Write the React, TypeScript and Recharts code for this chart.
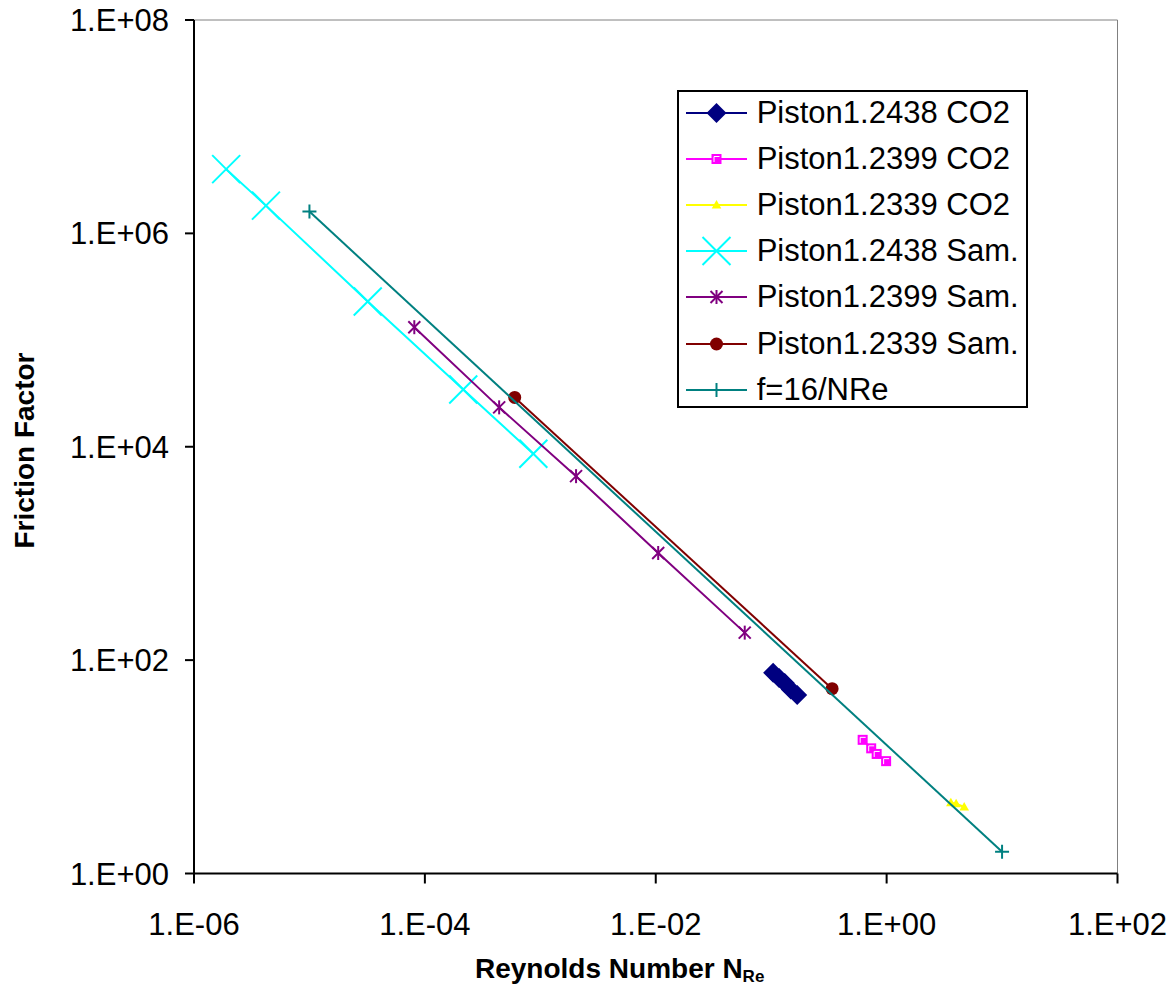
import React from 'react';
import { ScatterChart, Scatter, XAxis, YAxis, Legend, ReferenceLine } from 'recharts';

const FONT = '"Liberation Sans", Arial, Helvetica, sans-serif';

// Reynolds number (x) and friction factor (y)
const reCo2_2438 = [0.104, 0.117, 0.131, 0.148, 0.168];
const fCo2_2438 = [76, 68, 61, 53, 47];
const reCo2_2399 = [0.62, 0.735, 0.82, 0.99];
const fCo2_2399 = [17.9, 14.9, 13.2, 11.3];
const reCo2_2339 = [3.6, 4.0, 4.7];
const fCo2_2339 = [4.6, 4.5, 4.2];
const reSam_2438 = [1.9e-6, 4.2e-6, 3.2e-5, 2.15e-4, 8.7e-4];
const fSam_2438 = [4.0e6, 1.82e6, 2.3e5, 3.44e4, 8.6e3];
const reSam_2399 = [8.1e-5, 4.4e-4, 2.04e-3, 1.05e-2, 5.9e-2];
const fSam_2399 = [1.32e5, 2.34e4, 5.3e3, 1.01e3, 181];
const reSam_2339 = [6.0e-4, 0.337];
const fSam_2339 = [2.9e4, 54];
const reLaminar = [1e-5, 10];
const fLaminar = [1.6e6, 1.6];

const xTicks = [1e-6, 1e-4, 1e-2, 1, 100];
const yTicks = [1, 1e2, 1e4, 1e6, 1e8];

const toPoints = (xs: number[], ys: number[]) => xs.map((x, i) => ({ x, y: ys[i] }));

type Kind = 'diamond' | 'square' | 'triangle' | 'x' | 'star' | 'circle' | 'plus';

const series: { name: string; color: string; kind: Kind; data: { x: number; y: number }[] }[] = [
  { name: 'Piston1.2438 CO2', color: '#000080', kind: 'diamond', data: toPoints(reCo2_2438, fCo2_2438) },
  { name: 'Piston1.2399 CO2', color: '#FF00FF', kind: 'square', data: toPoints(reCo2_2399, fCo2_2399) },
  { name: 'Piston1.2339 CO2', color: '#FFFF00', kind: 'triangle', data: toPoints(reCo2_2339, fCo2_2339) },
  { name: 'Piston1.2438 Sam.', color: '#00FFFF', kind: 'x', data: toPoints(reSam_2438, fSam_2438) },
  { name: 'Piston1.2399 Sam.', color: '#800080', kind: 'star', data: toPoints(reSam_2399, fSam_2399) },
  { name: 'Piston1.2339 Sam.', color: '#800000', kind: 'circle', data: toPoints(reSam_2339, fSam_2339) },
  { name: 'f=16/NRe', color: '#008080', kind: 'plus', data: toPoints(reLaminar, fLaminar) },
];

const sciLabel = (v: number) => {
  const e = Math.round(Math.log10(v));
  return `1.E${e < 0 ? '-' : '+'}${String(Math.abs(e)).padStart(2, '0')}`;
};

const Marker = ({ kind, cx, cy, color }: { kind: Kind; cx: number; cy: number; color: string }) => {
  switch (kind) {
    case 'diamond': {
      const r = 10;
      return <path d={`M${cx},${cy - r}L${cx + r},${cy}L${cx},${cy + r}L${cx - r},${cy}Z`} fill={color} />;
    }
    case 'square':
      return (
        <g>
          <rect x={cx - 5} y={cy - 5} width={10} height={10} fill={color} />
          <path d={`M${cx - 2.5},${cy + 3}V${cy - 2.5}H${cx + 3}`} stroke="#fff" strokeWidth={1} fill="none" />
        </g>
      );
    case 'triangle':
      return <path d={`M${cx},${cy - 5}L${cx + 4.8},${cy + 3.5}L${cx - 4.8},${cy + 3.5}Z`} fill={color} />;
    case 'x': {
      const r = 14;
      return (
        <g stroke={color} strokeWidth={2}>
          <line x1={cx - r} y1={cy - r} x2={cx + r} y2={cy + r} />
          <line x1={cx - r} y1={cy + r} x2={cx + r} y2={cy - r} />
        </g>
      );
    }
    case 'star': {
      const r = 6;
      return (
        <g stroke={color} strokeWidth={2}>
          <line x1={cx - r} y1={cy - r} x2={cx + r} y2={cy + r} />
          <line x1={cx - r} y1={cy + r} x2={cx + r} y2={cy - r} />
          <line x1={cx} y1={cy - r - 1} x2={cx} y2={cy + r + 1} />
        </g>
      );
    }
    case 'circle':
      return <circle cx={cx} cy={cy} r={6.5} fill={color} />;
    case 'plus':
    default: {
      const r = 7;
      return (
        <g stroke={color} strokeWidth={2}>
          <line x1={cx - r} y1={cy} x2={cx + r} y2={cy} />
          <line x1={cx} y1={cy - r} x2={cx} y2={cy + r} />
        </g>
      );
    }
  }
};

const LegendBox = () => (
  <div
    style={{
      boxSizing: 'border-box',
      width: 351,
      height: 318,
      border: '2px solid #000',
      background: '#fff',
      fontFamily: FONT,
      fontSize: 31,
      color: '#000',
      paddingLeft: 7,
    }}
  >
    {series.map((s, i) => (
      <div key={s.name} style={{ display: 'flex', alignItems: 'center', height: 46.1, marginTop: i === 0 ? -2 : 0 }}>
        <svg width={61} height={46} style={{ flex: 'none', overflow: 'visible' }}>
          <line x1={0} x2={61} y1={23} y2={23} stroke={s.color} strokeWidth={2} />
          <Marker kind={s.kind} cx={30.5} cy={23} color={s.color} />
        </svg>
        <span style={{ marginLeft: 9.7, lineHeight: '46px', whiteSpace: 'nowrap' }}>{s.name}</span>
      </div>
    ))}
  </div>
);

const XTitle = () => (
  <text x={475} y={978} fontFamily={FONT} fontWeight="bold" fontSize={28} fill="#000">
    <tspan>Reynolds Number N</tspan>
    <tspan fontSize={17} dy={4}>Re</tspan>
  </text>
);

const YTitle = () => (
  <text
    x={33.5}
    y={450.5}
    transform="rotate(-90 33.5 450.5)"
    textAnchor="middle"
    fontFamily={FONT}
    fontWeight="bold"
    fontSize={28}
    fill="#000"
  >
    Friction Factor
  </text>
);

const App: React.FC = () => {
  return (
    <div style={{ position: 'absolute', left: 0, top: 0, width: 1176, height: 990 }}>
      <ScatterChart width={1176} height={990} margin={{ top: 20, right: 58.5, bottom: 16.5, left: 0 }}>
        <XAxis
          type="number"
          dataKey="x"
          scale="log"
          domain={[1e-6, 100]}
          ticks={xTicks}
          interval={0}
          allowDataOverflow
          height={100}
          tickSize={10}
          tickMargin={29}
          axisLine={{ stroke: '#000', strokeWidth: 2 }}
          tickLine={{ stroke: '#000', strokeWidth: 2 }}
          tick={{ fill: '#000', fontSize: 31, fontFamily: FONT }}
          tickFormatter={sciLabel}
          label={() => <XTitle />}
        />
        <YAxis
          type="number"
          dataKey="y"
          scale="log"
          domain={[1, 1e8]}
          ticks={yTicks}
          interval={0}
          allowDataOverflow
          width={194}
          tickSize={9}
          tickMargin={16}
          axisLine={{ stroke: '#000', strokeWidth: 2 }}
          tickLine={{ stroke: '#000', strokeWidth: 2 }}
          tick={{ fill: '#000', fontSize: 31, fontFamily: FONT }}
          tickFormatter={sciLabel}
          label={() => <YTitle />}
        />
        <ReferenceLine y={1e8} stroke="#808080" strokeWidth={1} />
        <ReferenceLine x={100} stroke="#808080" strokeWidth={1} />
        <Legend
          layout="vertical"
          align="center"
          verticalAlign="middle"
          wrapperStyle={{ left: 677, top: 90, width: 351, height: 318 }}
          content={() => <LegendBox />}
        />
        {series.map((s) => (
          <Scatter
            key={s.name}
            name={s.name}
            data={s.data}
            line={{ stroke: s.color, strokeWidth: 2 }}
            lineType="joint"
            isAnimationActive={false}
            shape={(p: any) => <Marker kind={s.kind} cx={p.cx} cy={p.cy} color={s.color} />}
          />
        ))}
      </ScatterChart>
    </div>
  );
};

export default App;
